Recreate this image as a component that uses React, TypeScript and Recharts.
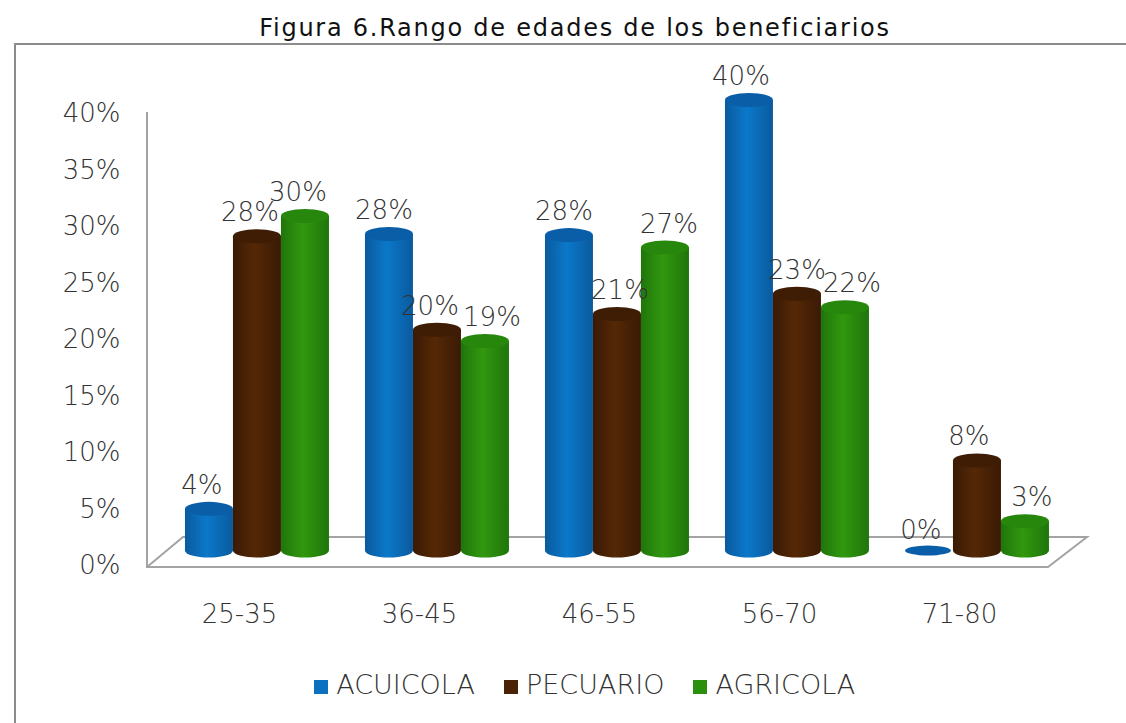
import { Bar, BarChart, LabelList, Legend, XAxis, YAxis } from "recharts";

const categories = ["25-35", "36-45", "46-55", "56-70", "71-80"];
const acuicola = [3.7, 28.1, 28, 40, 0];
const pecuario = [27.9, 19.6, 21, 22.8, 8];
const agricola = [29.7, 18.6, 26.9, 21.6, 2.6];
const yTicks = [0, 5, 10, 15, 20, 25, 30, 35, 40];

const data = categories.map((name, i) => ({
  name,
  ACUICOLA: acuicola[i],
  PECUARIO: pecuario[i],
  AGRICOLA: agricola[i],
}));

const FONT = "'DejaVu Sans', sans-serif";
const TEXT = "#333333";
const AXIS = "#a3a3a3";

// label nudges, the original labels do not sit centred over their cylinders
const acuicolaDx = [-7, -5, -5, -8, -8];
const pecuarioDx = [-7, -7, 3, 0, -8];
const agricolaDx = [-7, 7, 4, 7, 7];

const looks: Record<string, { edge: string; mid: string; top: string }> = {
  blue: { edge: "#0a5a9e", mid: "#0b78c9", top: "#0a5ea8" },
  brown: { edge: "#3a1a04", mid: "#552806", top: "#3f1d05" },
  green: { edge: "#1f750a", mid: "#31980f", top: "#27870c" },
};

function Cylinder(props: any) {
  const { x, y, width, height, look } = props;
  const c = looks[look];
  const cx = x + width / 2;
  const rx = width / 2;
  if (height < 1) {
    return <ellipse cx={cx - 1} cy={y} rx={rx - 1} ry={5} fill={c.top} />;
  }
  const ry = 7;
  const body = `M${x},${y} L${x},${y + height} A${rx},${ry} 0 0 0 ${x + width},${y + height} L${x + width},${y} Z`;
  return (
    <g>
      <path d={body} fill={`url(#grad-${look})`} />
      <ellipse cx={cx} cy={y} rx={rx} ry={ry} fill={c.top} />
    </g>
  );
}

function Floor() {
  return (
    <g fill="none" stroke={AXIS} strokeWidth={2}>
      <path d="M147,112 L147,567 L1048,567 L1087,537 L183,537 L147,567" />
    </g>
  );
}

function pctLabel(dx: number[]) {
  return (props: any) => {
    const { x, y, width, value, index } = props;
    return (
      <text
        x={x + width / 2 + dx[index]}
        y={y - (value === 0 ? 21 : 24)}
        textAnchor="middle"
        dominantBaseline="central"
        fontFamily={FONT}
        fontWeight={200}
        fontSize={26}
        fill={TEXT}
      >
        {Math.round(value)}%
      </text>
    );
  };
}

export default function App() {
  return (
    <div style={{ position: "absolute", left: 0, top: 0, width: 1126, height: 723, background: "#fff", overflow: "hidden" }}>
      <div
        style={{
          position: "absolute",
          left: 0,
          width: 1150,
          top: 14,
          textAlign: "center",
          fontFamily: FONT,
          fontSize: 24,
          letterSpacing: 1.75,
          color: "#111",
        }}
      >
        Figura 6.Rango de edades de los beneficiarios
      </div>
      <div style={{ position: "absolute", left: 14, top: 43, width: 1200, height: 800, border: "2px solid #8c8c8c" }} />
      <div style={{ position: "absolute", left: 0, top: 0 }}>
        <BarChart
          width={1126}
          height={723}
          data={data}
          barCategoryGap="9.7%"
          barGap={0}
          margin={{ top: 80, right: 58.5, bottom: 23, left: 0 }}
        >
          <defs>
            {Object.keys(looks).map((k) => (
              <linearGradient key={k} id={`grad-${k}`} x1="0" y1="0" x2="1" y2="0">
                <stop offset="0" stopColor={looks[k].edge} />
                <stop offset="0.45" stopColor={looks[k].mid} />
                <stop offset="1" stopColor={looks[k].edge} />
              </linearGradient>
            ))}
          </defs>
          <Floor />
          <XAxis
            dataKey="name"
            axisLine={false}
            tickLine={false}
            tickSize={0}
            height={104}
            tickMargin={40}
            tick={{ dx: -18, fontFamily: FONT, fontWeight: 200, fontSize: 26, fill: TEXT }}
          />
          <YAxis
            yAxisId="front"
            width={167.5}
            domain={[0, 42.94]}
            allowDataOverflow
            ticks={yTicks}
            interval={0}
            axisLine={false}
            tickLine={false}
            tickSize={0}
            tickMargin={45}
            tickFormatter={(v) => `${v}%`}
            tick={{ dx: 58, dy: 0, fontFamily: FONT, fontWeight: 200, fontSize: 26, fill: TEXT }}
          />
          <YAxis yAxisId="bars" hide domain={[-1.283, 41.77]} />
          <Legend
            verticalAlign="bottom"
            iconType="square"
            iconSize={14}
            itemSorter={null}
            wrapperStyle={{ fontFamily: FONT, fontWeight: 200, fontSize: 27, color: TEXT, left: 56 }}
            formatter={(v) => (
              <span style={{ color: TEXT, marginLeft: 4, marginRight: v === "AGRICOLA" ? 0 : 19 }}>{v}</span>
            )}
          />
          <Bar yAxisId="bars" dataKey="ACUICOLA" fill="#0b70bf" isAnimationActive={false} shape={(p: any) => <Cylinder {...p} look="blue" />}>
            <LabelList dataKey="ACUICOLA" content={pctLabel(acuicolaDx)} />
          </Bar>
          <Bar yAxisId="bars" dataKey="PECUARIO" fill="#4a2205" isAnimationActive={false} shape={(p: any) => <Cylinder {...p} look="brown" />}>
            <LabelList dataKey="PECUARIO" content={pctLabel(pecuarioDx)} />
          </Bar>
          <Bar yAxisId="bars" dataKey="AGRICOLA" fill="#2b8f0e" isAnimationActive={false} shape={(p: any) => <Cylinder {...p} look="green" />}>
            <LabelList dataKey="AGRICOLA" content={pctLabel(agricolaDx)} />
          </Bar>
        </BarChart>
      </div>
    </div>
  );
}
